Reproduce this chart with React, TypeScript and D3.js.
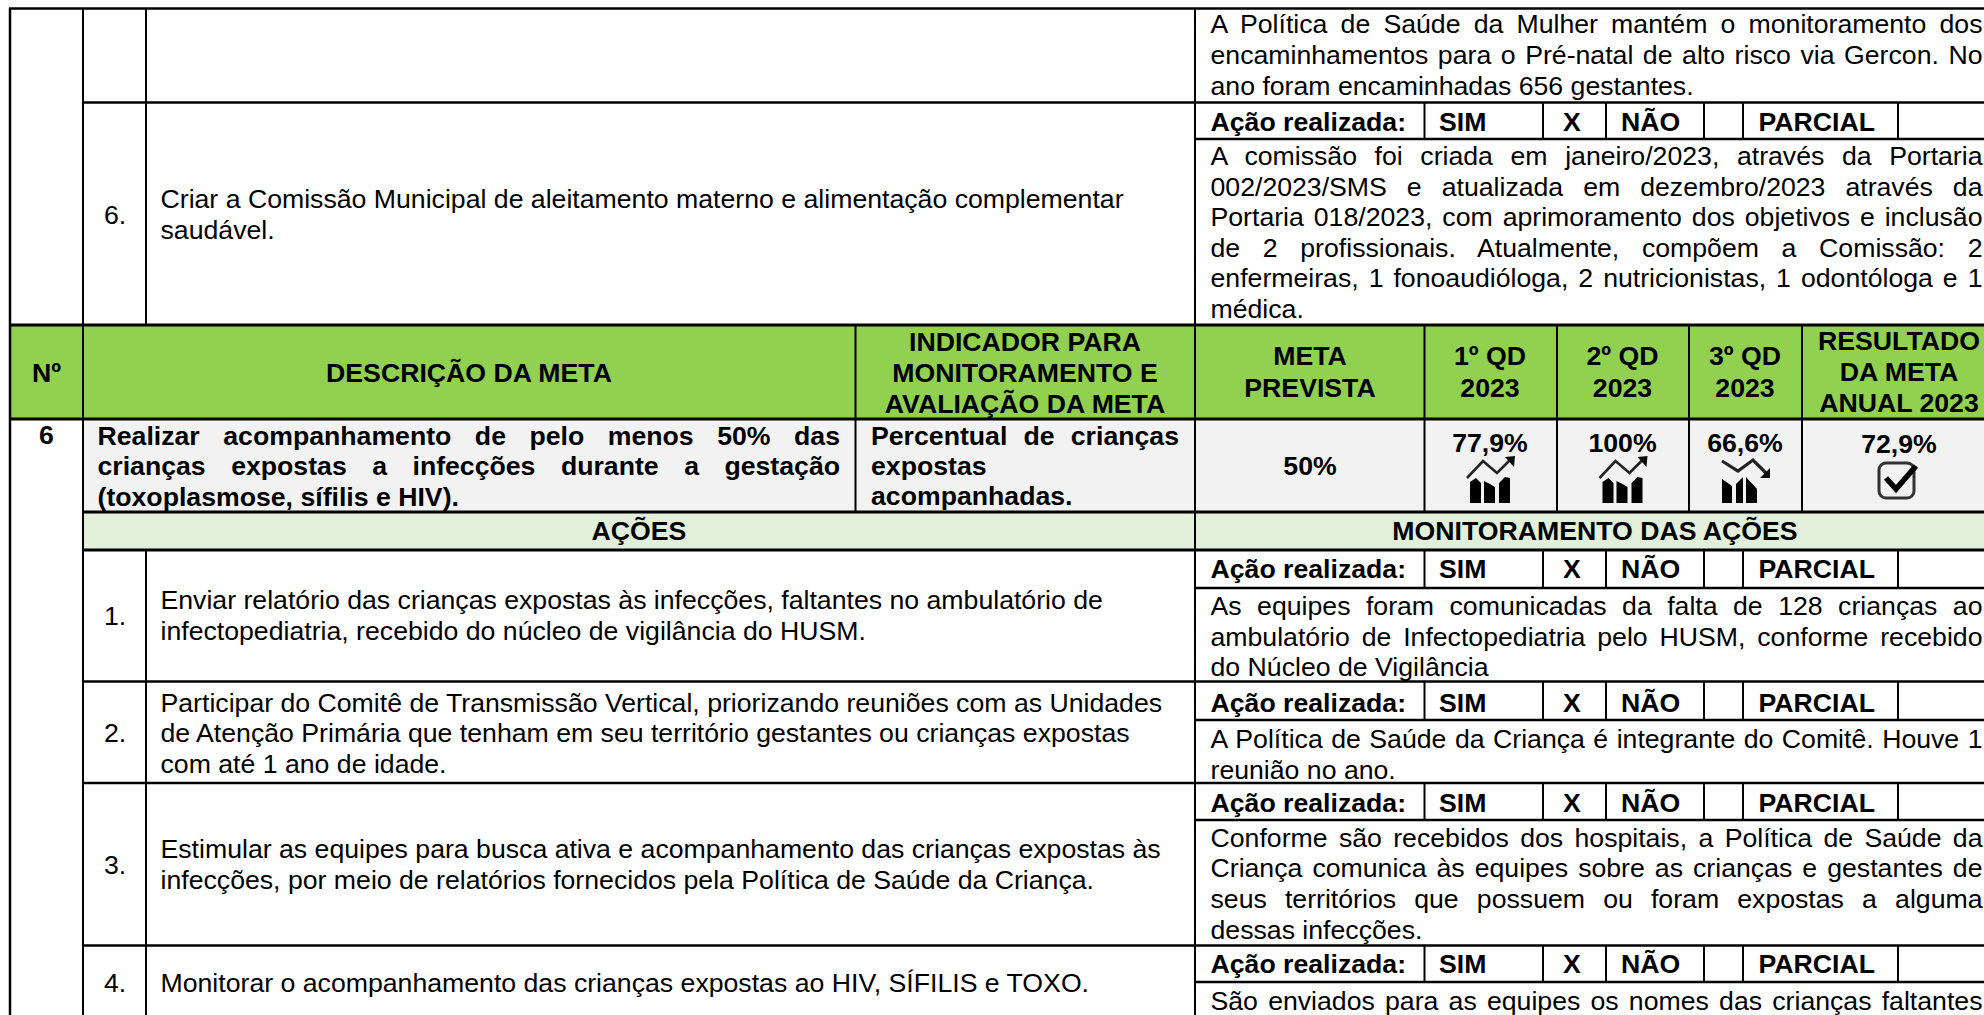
import { useEffect, useRef } from 'react';
import * as d3 from 'd3';

const WIDTH = 1984;
const HEIGHT = 1015;
const FONT = '"Liberation Sans", Arial, sans-serif';
const BODY_SIZE = 26.67;
const LINE = 30.6;

// ---- conteudo da tabela ----
const headerNo = 'Nº';
const headerDesc = 'DESCRIÇÃO DA META';
const headerIndicator = ['INDICADOR PARA', 'MONITORAMENTO E', 'AVALIAÇÃO DA META'];
const headerMeta = ['META', 'PREVISTA'];
const headerQuarters = [['1º QD', '2023'], ['2º QD', '2023'], ['3º QD', '2023']];
const headerResult = ['RESULTADO', 'DA META', 'ANUAL 2023'];

const goalNo = '6';
const goalDesc = [
  'Realizar acompanhamento de pelo menos 50% das',
  'crianças expostas a infecções durante a gestação',
  '(toxoplasmose, sífilis e HIV).',
];
const goalIndicator = ['Percentual de crianças', 'expostas', 'acompanhadas.'];
const goalTarget = '50%';
const quarterValues = ['77,9%', '100%', '66,6%'];
const quarterTrend = ['up', 'up', 'down'];
const annualResult = '72,9%';

const bandActions = 'AÇÕES';
const bandMonitoring = 'MONITORAMENTO DAS AÇÕES';

const actionNumbers = ['6.', '1.', '2.', '3.', '4.'];
const actionTexts = [
  ['Criar a Comissão Municipal de aleitamento materno e alimentação complementar', 'saudável.'],
  ['Enviar relatório das crianças expostas às infecções, faltantes no ambulatório de', 'infectopediatria, recebido do núcleo de vigilância do HUSM.'],
  ['Participar do Comitê de Transmissão Vertical, priorizando reuniões com as Unidades', 'de Atenção Primária que tenham em seu território gestantes ou crianças expostas', 'com até 1 ano de idade.'],
  ['Estimular as equipes para busca ativa e acompanhamento das crianças expostas às', 'infecções, por meio de relatórios fornecidos pela Política de Saúde da Criança.'],
  ['Monitorar o acompanhamento das crianças expostas ao HIV, SÍFILIS e TOXO.'],
];
const monitorTexts = [
  ['A Política de Saúde da Mulher mantém o monitoramento dos', 'encaminhamentos para o Pré-natal de alto risco via Gercon. No', 'ano foram encaminhadas 656 gestantes.'],
  ['A comissão foi criada em janeiro/2023, através da Portaria', '002/2023/SMS e atualizada em dezembro/2023 através da', 'Portaria 018/2023, com aprimoramento dos objetivos e inclusão', 'de 2 profissionais. Atualmente, compõem a Comissão: 2', 'enfermeiras, 1 fonoaudióloga, 2 nutricionistas, 1 odontóloga e 1', 'médica.'],
  ['As equipes foram comunicadas da falta de 128 crianças ao', 'ambulatório de Infectopediatria pelo HUSM, conforme recebido', 'do Núcleo de Vigilância'],
  ['A Política de Saúde da Criança é integrante do Comitê. Houve 1', 'reunião no ano.'],
  ['Conforme são recebidos dos hospitais, a Política de Saúde da', 'Criança comunica às equipes sobre as crianças e gestantes de', 'seus territórios que possuem ou foram expostas a alguma', 'dessas infecções.'],
  ['São enviados para as equipes os nomes das crianças faltantes'],
];
const statusLabels = ['Ação realizada:', 'SIM', 'X', 'NÃO', 'PARCIAL'];

// ---- grade (bordas em pixels) ----
const colNames = ['left', 'no', 'num', 'indicator', 'monitor', 'q1', 'q2', 'q3', 'result', 'end'];
const colEdges = [10, 83, 146, 855.5, 1195, 1424.5, 1557, 1689, 1802, WIDTH];
const statusCols = [1424.5, 1543, 1606, 1704, 1743, 1898];
const statusText = [1210.5, 1439, 1572, 1621, 1758.5];
const statusBands = [[103, 139, 131], [549.5, 588, 578], [681.5, 720, 711.5], [783, 820, 811.5], [945.5, 982, 973]];
const monitorBase = [33.3, 165, 615, 748, 846.7, 1010];
const actionBase = [208, 609, 711.5, 858, 992];
const actionNumBase = [224, 625, 742, 874, 992];

const rowNames = ['top', 'row6', 'head', 'goal', 'band', 'a1', 'a2', 'a3', 'a4', 'bottom'];
const rowEdges = [8.5, 102.5, 325, 419, 512, 550, 681.5, 783, 945.5, HEIGHT];

const App = () => {
  const svgRef = useRef<SVGSVGElement>(null);

  useEffect(() => {
    const svg = d3.select(svgRef.current);
    svg.selectAll('*').remove();

    const x = d3.scaleOrdinal<string, number>().domain(colNames).range(colEdges);
    const y = d3.scaleOrdinal<string, number>().domain(rowNames).range(rowEdges);

    svg.append('rect').attr('width', WIDTH).attr('height', HEIGHT).attr('fill', '#fff');

    const fill = (x0: number, x1: number, y0: number, y1: number, color: string) =>
      svg.append('rect').attr('x', x0).attr('y', y0).attr('width', x1 - x0).attr('height', y1 - y0).attr('fill', color);

    fill(x('left'), x('end'), y('head'), y('goal'), '#92d050');
    fill(x('no'), x('end'), y('goal'), y('band'), '#f2f2f2');
    fill(x('no'), x('end'), y('band'), y('a1'), '#e2efda');

    const text = (s: string, px: number, py: number, opts: { bold?: boolean; anchor?: string; size?: number; justify?: number } = {}) => {
      const t = svg.append('text')
        .attr('x', px)
        .attr('y', py)
        .attr('font-family', FONT)
        .attr('font-size', opts.size ?? BODY_SIZE)
        .attr('font-weight', opts.bold ? 700 : 400)
        .attr('text-anchor', opts.anchor ?? 'start')
        .attr('fill', '#000')
        .text(s);
      if (opts.justify) {
        // alinhamento justificado: distribui a sobra pelos espacos
        const natural = (t.node() as SVGTextElement).getComputedTextLength();
        const gaps = s.split(' ').length - 1;
        if (gaps > 0) t.attr('word-spacing', (opts.justify - natural) / gaps);
      }
      return t;
    };

    const hLine = (x0: number, x1: number, py: number, w = 2.5) =>
      svg.append('line').attr('x1', x0).attr('x2', x1).attr('y1', py).attr('y2', py).attr('stroke', '#000').attr('stroke-width', w);
    const vLine = (px: number, y0: number, y1: number, w = 2) =>
      svg.append('line').attr('x1', px).attr('x2', px).attr('y1', y0).attr('y2', y1).attr('stroke', '#000').attr('stroke-width', w);

    // cabecalho verde
    text(headerNo, 46.5, 382, { bold: true, anchor: 'middle' });
    text(headerDesc, 469, 382, { bold: true, anchor: 'middle' });
    headerIndicator.forEach((s, i) => text(s, 1025, 351 + i * 31, { bold: true, anchor: 'middle' }));
    headerMeta.forEach((s, i) => text(s, 1310, 365 + i * 31.5, { bold: true, anchor: 'middle' }));
    const quarterCenters = [1490, 1622.5, 1745];
    headerQuarters.forEach((lines, q) => lines.forEach((s, i) => text(s, quarterCenters[q], 365 + i * 31.5, { bold: true, anchor: 'middle' })));
    headerResult.forEach((s, i) => text(s, 1899, 350 + i * 31, { bold: true, anchor: 'middle' }));

    // linha da meta
    text(goalNo, 46.5, 444, { bold: true, anchor: 'middle' });
    goalDesc.forEach((s, i) => text(s, 97.5, 444.5 + i * 30.5, { bold: true, justify: i < 2 ? 742.5 : 0 }));
    goalIndicator.forEach((s, i) => text(s, 871, 445 + i * 30, { bold: true, justify: i === 0 ? 308 : 0 }));
    text(goalTarget, 1310, 475, { bold: true, anchor: 'middle' });
    quarterValues.forEach((s, i) => text(s, quarterCenters[i], 451.5, { bold: true, anchor: 'middle' }));
    text(annualResult, 1899, 453, { bold: true, anchor: 'middle' });

    // icones
    const defs = svg.append('defs');
    defs.append('filter').attr('id', 'soft').append('feGaussianBlur').attr('stdDeviation', 0.5);
    const icons = svg.append('g').attr('filter', 'url(#soft)');
    quarterTrend.forEach((trend, i) => {
      const g = icons.append('g').attr('transform', `translate(${quarterCenters[i]},0)`);
      if (trend === 'up') {
        g.append('path').attr('d', 'M-23,478 L-7,461 L7,473 L20,460').attr('fill', 'none').attr('stroke', '#222').attr('stroke-width', 2.6);
        g.append('path').attr('d', 'M15,457 L25,456 L24,467 Z').attr('fill', '#111');
        g.append('path').attr('d', 'M-20,503 V482 L-14,478 L-9,483 V503 Z M-6,503 V481 L0,484 L5,487 V503 Z M9,503 V483 L15,477 L20,478 V503 Z').attr('fill', '#000');
      } else {
        g.append('path').attr('d', 'M-23,461 L-7,471 L8,460 L24,476').attr('fill', 'none').attr('stroke', '#222').attr('stroke-width', 3.2);
        g.append('path').attr('d', 'M15,478 L25,478 L25,468 Z').attr('fill', '#111');
        g.append('path').attr('d', 'M-23,503 V479 L-13,486 V503 Z M-9,503 V484 L-2,477 V503 Z M1,503 V477 L12,489 V503 Z').attr('fill', '#000');
      }
    });
    const check = icons.append('g').attr('transform', 'translate(1899,0)');
    check.append('rect').attr('x', -20).attr('y', 463).attr('width', 35).attr('height', 35).attr('rx', 7).attr('fill', 'none').attr('stroke', '#333').attr('stroke-width', 3);
    check.append('path').attr('d', 'M-13,478 L-3,489 L17,466').attr('fill', 'none').attr('stroke', '#000').attr('stroke-width', 5.5);

    // faixas
    text(bandActions, 639, 540, { bold: true, anchor: 'middle' });
    text(bandMonitoring, 1595, 540, { bold: true, anchor: 'middle' });

    // coluna de acoes
    actionNumbers.forEach((s, i) => text(s, 115, actionNumBase[i], { anchor: 'middle' }));
    actionTexts.forEach((lines, i) => lines.forEach((s, j) => text(s, 160.5, actionBase[i] + j * LINE)));

    // coluna de monitoramento
    monitorTexts.forEach((lines, i) => lines.forEach((s, j) => {
      const justified = j < lines.length - 1 || (i === monitorTexts.length - 1);
      text(s, x('monitor') + 15.5, monitorBase[i] + j * LINE, { justify: justified ? 772 : 0 });
    }));

    statusBands.forEach(([, , base]) => statusLabels.forEach((s, k) => {
      text(s, statusText[k], base, { bold: true, anchor: k === 2 ? 'middle' : 'start' });
    }));

    // linhas da grade
    hLine(x('left') - 1, x('end'), y('top'));
    hLine(x('no') - 1, x('end'), y('row6'));
    hLine(x('left') - 1, x('end'), y('head'), 3);
    hLine(x('left') - 1, x('end'), y('goal'), 3);
    hLine(x('no') - 1, x('end'), y('band'), 3);
    hLine(x('no') - 1, x('end'), y('a1'), 3);
    hLine(x('no') - 1, x('end'), y('a2'));
    hLine(x('no') - 1, x('end'), y('a3'));
    hLine(x('no') - 1, x('end'), y('a4'));
    statusBands.forEach(([y0, y1]) => {
      hLine(x('monitor'), x('end'), y1);
      statusCols.forEach(c => vLine(c, y0, y1));
    });

    vLine(x('left'), y('top'), HEIGHT, 2.5);
    vLine(x('no'), y('top'), HEIGHT, 2);
    vLine(x('num'), y('top'), y('head'), 2);
    vLine(x('num'), y('a1'), HEIGHT, 2);
    vLine(x('monitor'), y('top'), HEIGHT, 2);
    vLine(x('indicator'), y('head'), y('band'), 2);
    [x('q1'), x('q2'), x('q3'), x('result')].forEach(c => vLine(c, y('head'), y('band')));
  }, []);

  return (
    <svg
      ref={svgRef}
      width={WIDTH}
      height={HEIGHT}
      style={{ position: 'absolute', left: 0, top: 0, display: 'block' }}
    />
  );
};

export default App;
